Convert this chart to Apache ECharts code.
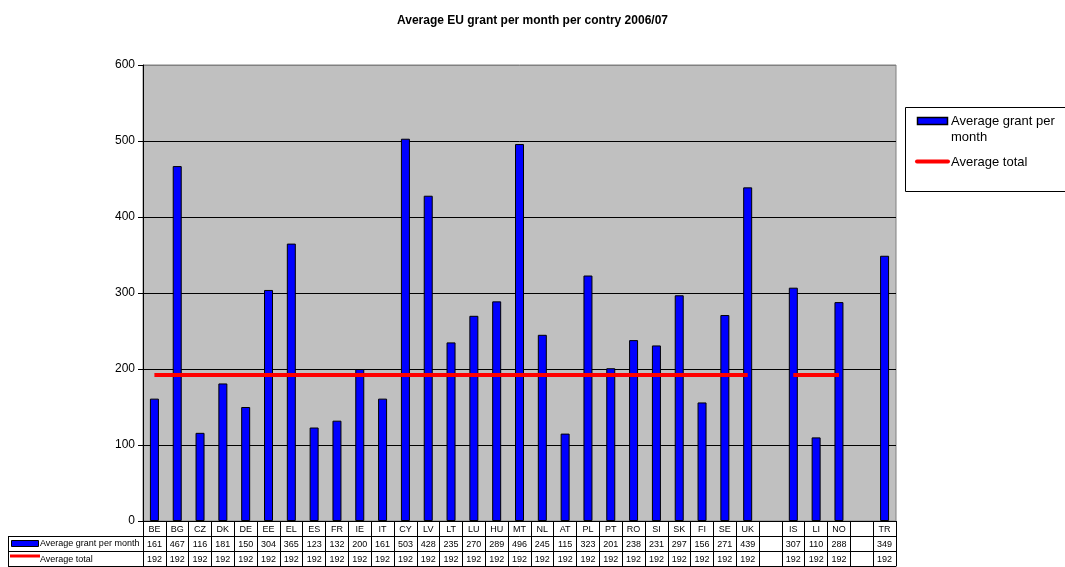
<!DOCTYPE html>
<html>
<head>
<meta charset="utf-8">
<title>Average EU grant per month per contry 2006/07</title>
<script src="https://cdn.jsdelivr.net/npm/echarts@6/dist/echarts.min.js"></script>
<style>
  html, body { margin: 0; padding: 0; background: #fff; }
  #chart { width: 1065px; height: 567px; }
</style>
</head>
<body>
<div id="chart"></div>
<script>
// 国家 / 类目（空白列用不同数量的空格区分）
var countries = ['BE', 'BG', 'CZ', 'DK', 'DE', 'EE', 'EL', 'ES', 'FR', 'IE', 'IT', 'CY', 'LV', 'LT', 'LU', 'HU', 'MT', 'NL', 'AT', 'PL', 'PT', 'RO', 'SI', 'SK', 'FI', 'SE', 'UK', ' ', 'IS', 'LI', 'NO', '  ', 'TR'];
// 每月平均资助
var grantPerMonth = [161, 467, 116, 181, 150, 304, 365, 123, 132, 200, 161, 503, 428, 235, 270, 289, 496, 245, 115, 323, 201, 238, 231, 297, 156, 271, 439, null, 307, 110, 288, null, 349];
// 总平均
var averageTotal = [192, 192, 192, 192, 192, 192, 192, 192, 192, 192, 192, 192, 192, 192, 192, 192, 192, 192, 192, 192, 192, 192, 192, 192, 192, 192, 192, null, 192, 192, 192, null, 192];
var yTicks = [0, 100, 200, 300, 400, 500, 600];

var FONT = 'Arial, "Liberation Sans", sans-serif';

function toCells(arr) {
  return arr.map(function(v) { return v == null ? '' : String(v); });
}

var myChart = echarts.init(document.getElementById('chart'));

// 数据表的横轴（偏移的坐标轴充当表格行）
function tableAxis(cells, offset) {
  return {
    type: 'category',
    position: 'bottom',
    offset: offset,
    data: cells,
    boundaryGap: true,
    axisLine: { show: true, lineStyle: { color: '#000', width: 1 } },
    axisTick: { show: false },
    axisLabel: { interval: 0, margin: 4, fontSize: 9, color: '#000', fontFamily: FONT },
    splitLine: { show: false }
  };
}

var option = {
  backgroundColor: '#fff',
  animation: false,
  title: {
    text: 'Average EU grant per month per contry 2006/07',
    left: 'center',
    top: 10,
    textStyle: { fontSize: 12, fontWeight: 'bold', color: '#000', fontFamily: FONT }
  },
  grid: {
    left: 143,
    right: 169,
    top: 65,
    bottom: 46,
    show: true,
    backgroundColor: '#c0c0c0',
    borderColor: '#808080',
    borderWidth: 1
  },
  xAxis: [{
      type: 'category',
      data: countries,
      boundaryGap: true,
      axisLine: { lineStyle: { color: '#000', width: 1 } },
      // 刻度线向下延伸形成表格竖线
      axisTick: { show: true, length: 45, lineStyle: { color: '#000' } },
      axisLabel: { interval: 0, margin: 4, fontSize: 9, color: '#000', fontFamily: FONT }
    },
    tableAxis(toCells(grantPerMonth), 15),
    tableAxis(toCells(averageTotal), 30),
    {
      type: 'category',
      position: 'bottom',
      offset: 45,
      data: countries,
      axisLine: { show: true, lineStyle: { color: '#000' } },
      axisTick: { show: false },
      axisLabel: { show: false }
    }
  ],
  yAxis: {
    type: 'value',
    min: yTicks[0],
    max: yTicks[yTicks.length - 1],
    interval: 100,
    axisLine: { show: true, lineStyle: { color: '#000' } },
    axisTick: { show: true, length: 5, lineStyle: { color: '#000' } },
    axisLabel: { fontSize: 12, color: '#000', margin: 8, fontFamily: FONT },
    splitLine: { show: true, lineStyle: { color: ['#000', '#000', '#000', '#000', '#000', '#000', '#808080'], width: 1 } }
  },
  series: [{
    name: 'Average grant per month',
    type: 'bar',
    barWidth: 9,
    itemStyle: { color: '#0000ff', borderColor: '#000', borderWidth: 1 },
    data: grantPerMonth
  }, {
    name: 'Average total',
    type: 'line',
    symbol: 'none',
    connectNulls: false,
    lineStyle: { color: '#ff0000', width: 4 },
    itemStyle: { color: '#ff0000' },
    data: averageTotal,
    z: 3
  }],
  graphic: [
    // 右侧图例框
    { type: 'rect', shape: { x: 905.5, y: 107.5, width: 170, height: 84 }, style: { fill: '#fff', stroke: '#000', lineWidth: 1 } },
    { type: 'rect', shape: { x: 917.5, y: 117.5, width: 30, height: 7 }, style: { fill: '#0000ff', stroke: '#000', lineWidth: 1.5 } },
    { type: 'text', x: 951, y: 121, style: { text: 'Average grant per', fontSize: 13, fill: '#000', fontFamily: FONT, verticalAlign: 'middle' } },
    { type: 'text', x: 951, y: 137, style: { text: 'month', fontSize: 13, fill: '#000', fontFamily: FONT, verticalAlign: 'middle' } },
    { type: 'line', shape: { x1: 917, y1: 161.5, x2: 948, y2: 161.5 }, style: { stroke: '#ff0000', lineWidth: 4, lineCap: 'round' } },
    { type: 'text', x: 951, y: 162, style: { text: 'Average total', fontSize: 13, fill: '#000', fontFamily: FONT, verticalAlign: 'middle' } },
    // 表格左侧的图例列
    { type: 'line', shape: { x1: 8, y1: 536.5, x2: 143, y2: 536.5 }, style: { stroke: '#000', lineWidth: 1 } },
    { type: 'line', shape: { x1: 8, y1: 551.5, x2: 143, y2: 551.5 }, style: { stroke: '#000', lineWidth: 1 } },
    { type: 'line', shape: { x1: 8, y1: 566.5, x2: 143, y2: 566.5 }, style: { stroke: '#000', lineWidth: 1 } },
    { type: 'line', shape: { x1: 8.5, y1: 536, x2: 8.5, y2: 567 }, style: { stroke: '#000', lineWidth: 1 } },
    { type: 'rect', shape: { x: 11.5, y: 540.5, width: 27, height: 6 }, style: { fill: '#0000ff', stroke: '#000', lineWidth: 1 } },
    { type: 'text', x: 40, y: 544, style: { text: 'Average grant per month', fontSize: 9, fill: '#000', fontFamily: FONT, verticalAlign: 'middle' } },
    { type: 'line', shape: { x1: 10, y1: 556, x2: 40, y2: 556 }, style: { stroke: '#ff0000', lineWidth: 3 } },
    { type: 'text', x: 40, y: 560, style: { text: 'Average total', fontSize: 9, fill: '#000', fontFamily: FONT, verticalAlign: 'middle' } }
  ]
};

myChart.setOption(option);
</script>
</body>
</html>
